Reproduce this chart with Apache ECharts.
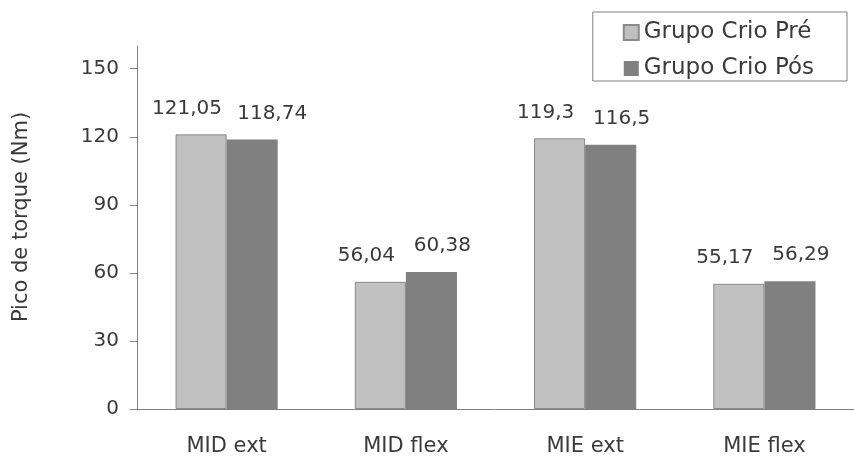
<!DOCTYPE html>
<html><head><meta charset="utf-8">
<script src="https://cdn.jsdelivr.net/npm/echarts@6/dist/echarts.min.js"></script>
<style>html,body{margin:0;padding:0;background:#fff}#c{width:854px;height:457px}</style>
</head><body><div id="c"></div>
<script>
const categories = ['MID ext', 'MID flex', 'MIE ext', 'MIE flex'];
const seriesNames = ['Grupo Crio Pré', 'Grupo Crio Pós'];
const preValues = [121.05, 56.04, 119.3, 55.17];
const posValues = [118.74, 60.38, 116.5, 56.29];
const yTicks = [0, 30, 60, 90, 120, 150];
const FONT = 'DejaVu Sans';
const TXT = '#3a3a3a';
const fmt = p => String(p.value).replace('.', ',');

const chart = echarts.init(document.getElementById('c'), null, {renderer: 'canvas'});
chart.setOption({
  animation: false,
  textStyle: {fontFamily: FONT},
  grid: {left: 137, right: -6, top: 46, bottom: 46, containLabel: false},
  legend: {
    orient: 'vertical', right: 7, top: 12,
    padding: [9, 33, 1, 30], itemGap: 13,
    itemWidth: 15, itemHeight: 15, icon: 'rect',
    borderColor: '#808080', borderWidth: 1,
    textStyle: {fontFamily: FONT, fontSize: 23, color: TXT},
    data: seriesNames
  },
  xAxis: {
    type: 'category', data: categories,
    axisLine: {lineStyle: {color: '#808080', width: 1}},
    axisTick: {length: 6, lineStyle: {color: '#404040'}},
    axisLabel: {fontFamily: FONT, fontSize: 21, color: TXT, margin: 27}
  },
  yAxis: {
    type: 'value', min: 0, max: 160, interval: 30,
    splitLine: {show: false},
    axisLine: {show: true, lineStyle: {color: '#808080', width: 1}},
    axisTick: {show: true, length: 7, customValues: yTicks, lineStyle: {color: '#808080'}},
    axisLabel: {fontFamily: FONT, fontSize: 20, color: TXT, margin: 18, customValues: yTicks}
  },
  graphic: [{
    type: 'text', x: 22, y: 217, rotation: Math.PI / 2,
    style: {text: 'Pico de torque (Nm)', fontFamily: FONT, fontSize: 21, fill: TXT,
      align: 'center', verticalAlign: 'middle'}
  }],
  series: [{
    name: seriesNames[0], type: 'bar', data: preValues,
    barWidth: '28.5%', barGap: '0%',
    itemStyle: {color: '#c0c0c0', borderColor: '#8a8a8a', borderWidth: 1},
    label: {show: true, position: 'top', distance: 16, offset: [-14, 0], formatter: fmt,
      fontFamily: FONT, fontSize: 20, color: TXT}
  }, {
    name: seriesNames[1], type: 'bar',
    data: posValues.map((v, i) => i === 0 ? {value: v, label: {offset: [20, 0]}} : v),
    barWidth: '28.5%', barGap: '0%',
    itemStyle: {color: '#808080'},
    label: {show: true, position: 'top', distance: 16, offset: [11, 0], formatter: fmt,
      fontFamily: FONT, fontSize: 20, color: TXT}
  }]
});
</script></body></html>
